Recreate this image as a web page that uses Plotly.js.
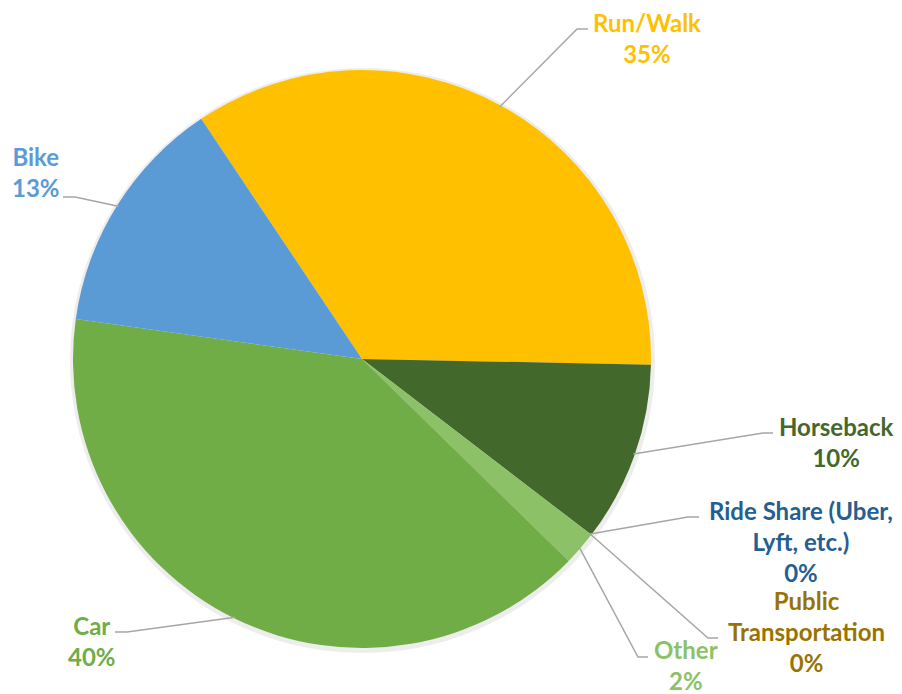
<!DOCTYPE html>
<html>
<head>
<meta charset="utf-8">
<script src="https://cdn.plot.ly/plotly-3.0.1.min.js"></script>
<style>html,body{margin:0;padding:0;background:#fff;}#chart{width:902px;height:694px;}</style>
</head>
<body>
<div id="chart"></div>
<script>
// ---- data ----
const categories = ['Run/Walk', 'Horseback', 'Ride Share (Uber, Lyft, etc.)', 'Public Transportation', 'Other', 'Car', 'Bike'];
const values = [34.7, 10.1, 0, 0, 1.9, 39.9, 13.4];
const labelLines = ['Run/Walk', 'Horseback', 'Ride Share (Uber,<br>Lyft, etc.)', 'Public<br>Transportation', 'Other', 'Car', 'Bike'];
const pctLabels = ['35%', '10%', '0%', '0%', '2%', '40%', '13%'];

// ---- styles / layout ----
const W = 902, H = 694;
const sliceColors = ['#FFC000', '#43682B', '#255E91', '#997300', '#8CC168', '#70AD47', '#5B9BD5'];
const textColors  = ['#FFC000', '#43682B', '#255E91', '#997300', '#8CC168', '#70AD47', '#5B9BD5'];
const cx = 362, cy = 359, R = 289;
const rotation = -33.8;
// label block centres and leader-line elbows (pixels)
const labelPos = [
  {x: 647, y: 38,  elbow: [577, 29],  end: [588, 29]},
  {x: 836, y: 442, elbow: [763, 433], end: [773, 433]},
  {x: 801, y: 541, elbow: [688, 517], end: [699, 517]},
  {x: 806, y: 631, elbow: [708, 638], end: [718, 638]},
  {x: 686, y: 665, elbow: [638, 657], end: [648, 657]},
  {x: 92,  y: 641, elbow: [127, 632], end: [115, 632]},
  {x: 36,  y: 172, elbow: [75, 197],  end: [63, 197]}
];

const px = x => x / W;
const py = y => 1 - y / H;

const domain = {x: [px(cx - R), px(cx + R)], y: [py(cy + R), py(cy - R)]};
const shadowDomain = {x: [px(cx - R - 3), px(cx + R + 4)], y: [py(cy + R + 5), py(cy - R - 2)]};

const total = values.reduce((a, b) => a + b, 0);
let ang = rotation;
const annotations = [];
const shapes = [];
values.forEach((v, i) => {
  const span = 360 * v / total;
  const mid = (ang + span / 2) * Math.PI / 180;
  ang += span;
  const ax = cx + R * 0.995 * Math.sin(mid);
  const ay = cy - R * 0.995 * Math.cos(mid);
  const p = labelPos[i];
  shapes.push({
    type: 'path', xref: 'paper', yref: 'paper',
    path: `M ${px(ax)},${py(ay)} L ${px(p.elbow[0])},${py(p.elbow[1])} L ${px(p.end[0])},${py(p.end[1])}`,
    line: {color: '#A6A6A6', width: 1.5}
  });
  annotations.push({
    xref: 'paper', yref: 'paper', x: px(p.x), y: py(p.y),
    xanchor: 'center', yanchor: 'middle', showarrow: false, align: 'center',
    text: '<b>' + labelLines[i] + '<br>' + pctLabels[i] + '</b>',
    font: {family: 'Lato, sans-serif', size: 24, color: textColors[i]}
  });
});

const data = [
  {
    type: 'pie', values: [1], labels: ['shadow'], domain: shadowDomain, sort: false,
    marker: {colors: ['rgba(0,0,0,0.07)'], line: {width: 0}},
    textinfo: 'none', hoverinfo: 'skip', showlegend: false
  },
  {
    type: 'pie', labels: categories, values: values, domain: domain,
    sort: false, direction: 'clockwise', rotation: rotation,
    marker: {colors: sliceColors, line: {width: 0}},
    textinfo: 'none', showlegend: false
  }
];

const layout = {
  width: W, height: H, margin: {l: 0, r: 0, t: 0, b: 0},
  paper_bgcolor: '#fff', showlegend: false,
  annotations: annotations, shapes: shapes
};

Plotly.newPlot('chart', data, layout, {displayModeBar: false, staticPlot: true});
</script>
</body>
</html>
